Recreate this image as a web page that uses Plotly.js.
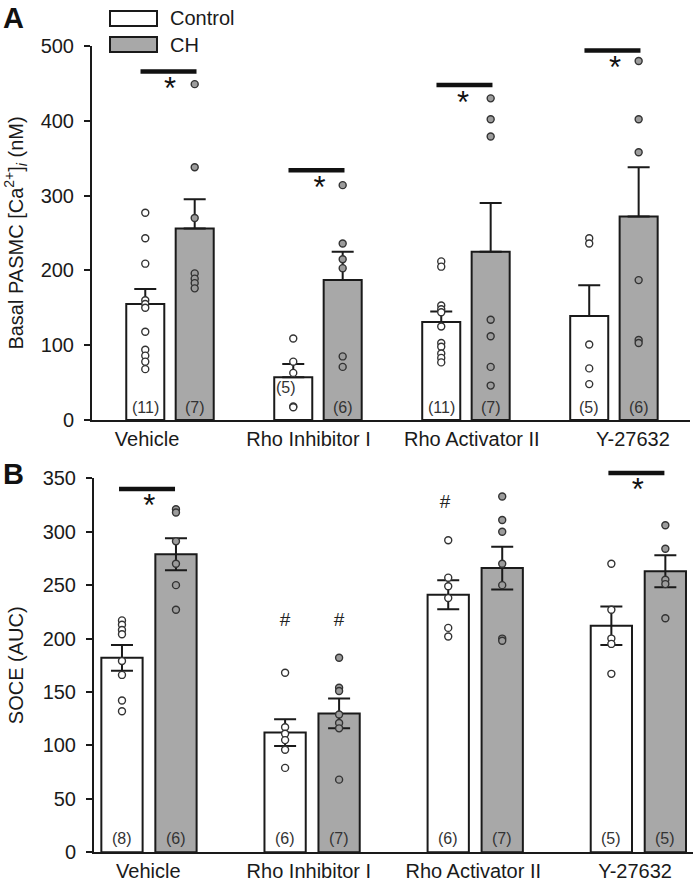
<!DOCTYPE html>
<html><head><meta charset="utf-8">
<script src="https://cdn.plot.ly/plotly-3.0.1.min.js"></script>
<style>html,body{margin:0;padding:0;background:#fff;} #chart{width:693px;height:881px;}</style>
</head><body><div id="chart"></div>
<script>
// ---------- DATA ----------
const categories = ['Vehicle', 'Rho Inhibitor I', 'Rho Activator II', 'Y-27632'];
const seriesNames = ['Control', 'CH'];

// Panel A: Basal PASMC [Ca2+]i (nM)
const caControlMean = [155, 57, 131, 139];
const caControlSem  = [20, 18, 14, 41];
const caCHMean      = [256, 187, 225, 272];
const caCHSem       = [39, 38, 65, 66];
const caControlN = [11, 5, 11, 5];
const caCHN      = [7, 6, 7, 6];
const caControlPts = [
  [277, 243, 209, 160, 155, 150, 118, 94, 86, 78, 68],
  [109, 78, 63, 18, 17],
  [212, 205, 153, 148, 144, 125, 103, 98, 89, 83, 77],
  [243, 236, 101, 69, 48]
];
const caCHPts = [
  [449, 338, 270, 196, 189, 183, 176],
  [314, 236, 215, 203, 85, 71],
  [430, 402, 379, 134, 112, 71, 46],
  [480, 402, 358, 187, 107, 103]
];
const caSigBarY = [466, 334, 448, 494];

// Panel B: SOCE (AUC)
const soceControlMean = [182, 112, 241, 212];
const soceControlSem  = [12, 12.5, 13.5, 18];
const soceCHMean      = [279, 130, 266, 263];
const soceCHSem       = [15, 14, 20, 15];
const soceControlN = [8, 6, 6, 5];
const soceCHN      = [6, 7, 7, 5];
const soceControlPts = [
  [217, 213, 208, 204, 179, 166, 142, 132],
  [168, 117, 111, 105, 96, 79],
  [292, 257, 249, 238, 210, 202],
  [270, 227, 200, 195, 167]
];
const soceCHPts = [
  [321, 318, 291, 270, 250, 227],
  [182, 154, 151, 129, 121, 116, 68],
  [333, 311, 300, 270, 250, 200, 198],
  [306, 284, 255, 251, 219]
];
const soceSigBarY = [340, null, null, 355];
const soceHashControlY = [null, 216, 327, null];
const soceHashCHY      = [null, 216, null, null];

// ---------- STYLE / LAYOUT ----------
const W = 693, H = 881;
const px = x => x / W, py = y => 1 - y / H;
const FONT = 'Liberation Sans, Arial, Helvetica, sans-serif';
const INK = '#1a1a1a';
const WHITE = '#ffffff', GREY = '#a8a8a8', PTGREY = '#9c9c9c';

// panel B pixel geometry: value 0 at y=852.3px, 1.0686 px per unit
const B_ZERO = 852.3, B_PPU = 1.0686;

const panelA = {xa: 'x', ya: 'y', sigYa: 'y', off: 0.167, bw: 0.257, oneSided: true,
  ctrlMean: caControlMean, ctrlSem: caControlSem, chMean: caCHMean, chSem: caCHSem,
  ctrlPts: caControlPts, chPts: caCHPts, ctrlN: caControlN, chN: caCHN,
  nY: 17, sigY: caSigBarY, sigDx: -0.01, sigSize: 40, starDrop: 27, starDx: [0, 0.01, -0.02, 0.007]};
const panelB = {xa: 'x2', ya: 'y2', sigYa: 'y3', off: 0.1655, bw: 0.253, oneSided: false,
  ctrlMean: soceControlMean, ctrlSem: soceControlSem, chMean: soceCHMean, chSem: soceCHSem,
  ctrlPts: soceControlPts, chPts: soceCHPts, ctrlN: soceControlN, chN: soceCHN,
  nY: 13, sigY: soceSigBarY, sigDx: -0.012, sigSize: 40, starDrop: 18, starDx: [0.002, 0, 0, -0.004]};

const traces = [];
const annotations = [];

function addPanel(P, isA) {
  const groupsDef = [
    {name: seriesNames[0], mean: P.ctrlMean, sem: P.ctrlSem, pts: P.ctrlPts, n: P.ctrlN, dx: -P.off, fill: WHITE, ptFill: WHITE},
    {name: seriesNames[1], mean: P.chMean, sem: P.chSem, pts: P.chPts, n: P.chN, dx: P.off, fill: GREY, ptFill: PTGREY}
  ];
  groupsDef.forEach((g) => {
    const xs = categories.map((_, i) => i + g.dx);
    traces.push({
      type: 'bar', name: g.name, x: xs, y: g.mean, width: P.bw,
      xaxis: P.xa, yaxis: P.ya, showlegend: false,
      marker: {color: g.fill, line: {color: INK, width: 2}},
      error_y: {type: 'data', array: g.sem, arrayminus: P.oneSided ? g.sem.map(() => 0) : g.sem,
                symmetric: false, color: INK, thickness: 2, width: 11},
      hoverinfo: 'skip'
    });
  });
  groupsDef.forEach((g, gi) => {
    const xs = [], ys = [];
    g.pts.forEach((arr, i) => arr.forEach(v => { xs.push(i + g.dx); ys.push(v); }));
    traces.push({
      type: 'scatter', mode: 'markers', name: g.name + ' points', x: xs, y: ys,
      xaxis: P.xa, yaxis: P.ya, showlegend: false, cliponaxis: false,
      marker: {size: 7, color: g.ptFill, line: {color: '#333', width: 1.4}},
      hoverinfo: 'skip'
    });
    g.n.forEach((n, i) => {
      let y = P.nY, xshift = 0;
      if (isA && gi === 0 && i === 1) { y = 43; xshift = -7; }
      annotations.push({xref: P.xa, yref: P.ya, x: i + g.dx, y: y, text: '(' + n + ')',
        showarrow: false, xshift: xshift, font: {family: FONT, size: 16, color: '#333'}});
    });
  });
  // significance bars (wide line markers) + stars
  const sx = [], sy = [], tx = [], ty = [];
  P.sigY.forEach((v, i) => {
    if (v === null) return;
    sx.push(i + P.sigDx); sy.push(v);
    tx.push(i + P.starDx[i]); ty.push(v - P.starDrop);
  });
  traces.push({type: 'scatter', mode: 'markers', name: 'significance', x: sx, y: sy, xaxis: P.xa, yaxis: P.sigYa,
    showlegend: false, cliponaxis: false, hoverinfo: 'skip',
    marker: {symbol: 'line-ew', size: P.sigSize, color: '#111', line: {color: '#111', width: 4.5}}});
  traces.push({type: 'scatter', mode: 'text', name: 'star', x: tx, y: ty, text: tx.map(() => '*'),
    textposition: 'middle center', xaxis: P.xa, yaxis: P.sigYa, showlegend: false, cliponaxis: false,
    hoverinfo: 'skip', textfont: {family: FONT, size: 31, color: '#111'}});
}
addPanel(panelA, true);
addPanel(panelB, false);

// '#' markers (vs Vehicle)
const hx = [], hy = [];
soceHashControlY.forEach((v, i) => { if (v !== null) { hx.push(i - panelB.off - (i === 2 ? 0.02 : 0)); hy.push(v); } });
soceHashCHY.forEach((v, i) => { if (v !== null) { hx.push(i + panelB.off); hy.push(v); } });
traces.push({type: 'scatter', mode: 'text', name: 'hash', x: hx, y: hy, text: hx.map(() => '#'), textposition: 'middle center',
  xaxis: 'x2', yaxis: 'y2', showlegend: false, cliponaxis: false, hoverinfo: 'skip',
  textfont: {family: FONT, size: 19, color: '#222'}});

// panel letters
annotations.push({xref: 'paper', yref: 'paper', x: px(1), y: py(18), xanchor: 'left', yanchor: 'middle',
  text: '<b>A</b>', showarrow: false, font: {family: FONT, size: 29, color: '#111'}});
annotations.push({xref: 'paper', yref: 'paper', x: px(1), y: py(474), xanchor: 'left', yanchor: 'middle',
  text: '<b>B</b>', showarrow: false, font: {family: FONT, size: 29, color: '#111'}});

// legend (manual)
const shapes = [
  {type: 'rect', xref: 'paper', yref: 'paper', x0: px(110), x1: px(157), y0: py(11), y1: py(26),
   fillcolor: WHITE, line: {color: INK, width: 2}},
  {type: 'rect', xref: 'paper', yref: 'paper', x0: px(110), x1: px(157), y0: py(37), y1: py(52),
   fillcolor: GREY, line: {color: INK, width: 2}}
];
annotations.push({xref: 'paper', yref: 'paper', x: px(168), y: py(18.5), xanchor: 'left', yanchor: 'middle',
  text: seriesNames[0], showarrow: false, font: {family: FONT, size: 20, color: INK}});
annotations.push({xref: 'paper', yref: 'paper', x: px(168), y: py(44.5), xanchor: 'left', yanchor: 'middle',
  text: seriesNames[1], showarrow: false, font: {family: FONT, size: 20, color: INK}});

const yCommon = {showline: true, linewidth: 2, linecolor: INK, ticks: 'outside', ticklen: 6, tickwidth: 2,
  tickcolor: INK, showgrid: false, zeroline: false, tickfont: {family: FONT, size: 20, color: INK},
  ticklabelstandoff: 6, fixedrange: true};
const xCommon = {showline: true, linewidth: 2, linecolor: INK, ticks: '', showgrid: false, zeroline: false,
  tickfont: {family: FONT, size: 20, color: INK}, fixedrange: true, ticktext: categories};

const Y3_MAX = 380;
const layout = {
  width: W, height: H, margin: {l: 0, r: 0, t: 0, b: 0}, paper_bgcolor: '#fff', plot_bgcolor: 'rgba(0,0,0,0)',
  barmode: 'overlay', showlegend: false, font: {family: FONT, color: INK},
  xaxis: Object.assign({}, xCommon, {domain: [px(92), px(690)], range: [-0.527, 3.514], anchor: 'y',
    tickvals: [-0.155, 0.936, 2.04, 3.128]}),
  yaxis: Object.assign({}, yCommon, {domain: [py(420), py(46)], range: [0, 500], anchor: 'x',
    tickvals: [0, 100, 200, 300, 400, 500],
    title: {text: 'Basal PASMC [Ca<sup>2+</sup>]<sub><i>i</i></sub> (nM)', font: {family: FONT, size: 20, color: INK}, standoff: 12}}),
  xaxis2: Object.assign({}, xCommon, {domain: [px(94), 1], range: [-0.337, 3.335], anchor: 'y2',
    tickvals: [-0.004, 0.98, 1.988, 2.98]}),
  yaxis2: Object.assign({}, yCommon, {domain: [py(B_ZERO), py(B_ZERO - 350 * B_PPU)], range: [0, 350], anchor: 'x2',
    tickvals: [0, 50, 100, 150, 200, 250, 300, 350],
    title: {text: 'SOCE (AUC)', font: {family: FONT, size: 20, color: INK}, standoff: 14}}),
  // hidden companion axis with the same scale as yaxis2, taller, so marks above 350 stay visible
  yaxis3: {domain: [py(B_ZERO), py(B_ZERO - Y3_MAX * B_PPU)], range: [0, Y3_MAX], anchor: 'x2',
    visible: false, showgrid: false, zeroline: false, fixedrange: true},
  shapes: shapes,
  annotations: annotations
};

Plotly.newPlot('chart', traces, layout, {displayModeBar: false, staticPlot: true});
</script>
</body></html>
